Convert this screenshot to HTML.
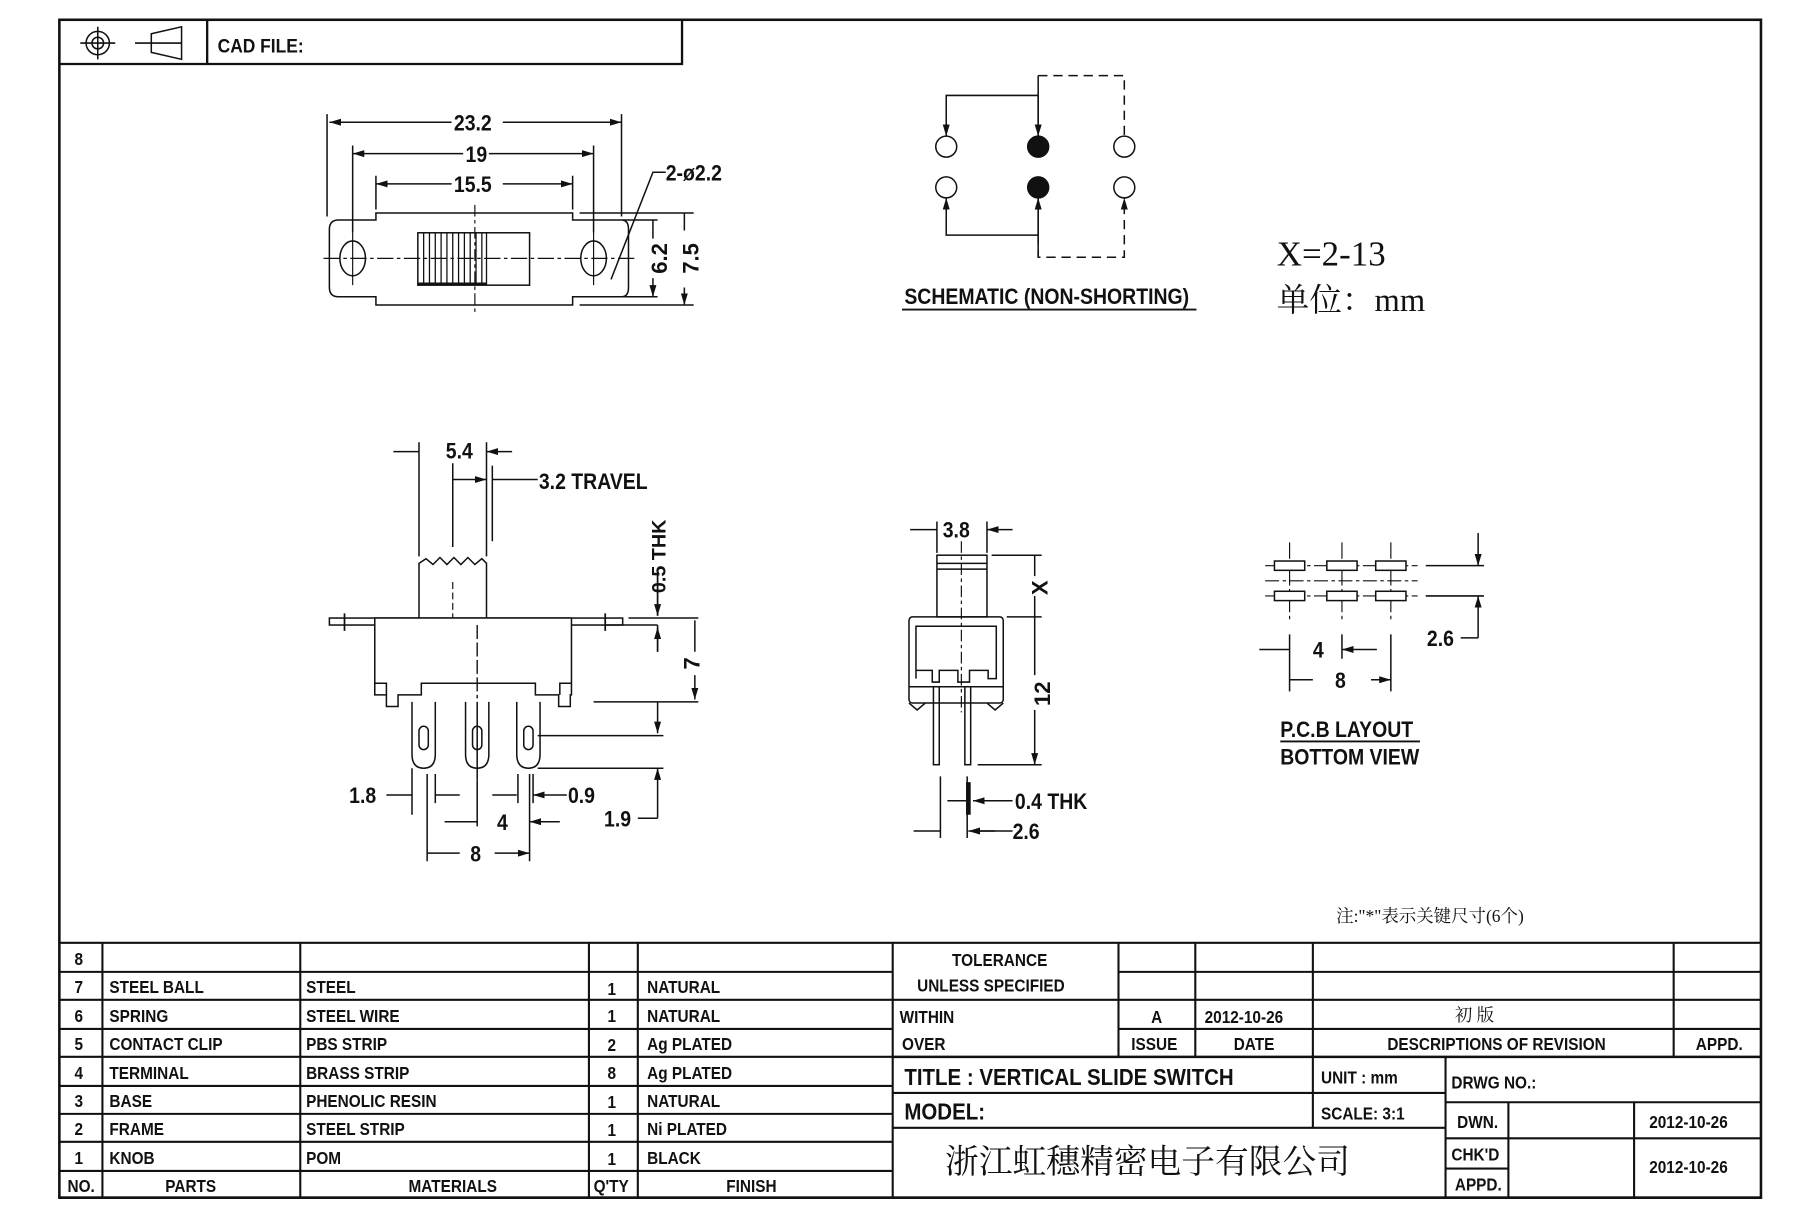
<!DOCTYPE html>
<html><head><meta charset="utf-8"><style>
html,body{margin:0;padding:0;background:#fff;}
svg{display:block;}
text{font-family:"Liberation Sans Narrow","Liberation Sans",sans-serif;font-weight:bold;fill:#111;}
text:not([transform]):not(.s):not(.c){transform-box:fill-box;transform-origin:0 0;transform:scaleX(.88);}
.s{font-family:"Liberation Serif","Noto Serif CJK SC",serif;font-weight:normal;}
.c{font-family:"Liberation Serif","Noto Serif CJK SC",serif;font-weight:normal;}
</style></head><body>
<svg width="1811" height="1207" viewBox="0 0 1556 1037" preserveAspectRatio="none" xmlns="http://www.w3.org/2000/svg">
<defs>
<marker id="a" viewBox="0 0 10 6" refX="10" refY="3" markerWidth="10" markerHeight="6" markerUnits="userSpaceOnUse" orient="auto-start-reverse"><path d="M0,0L10,3L0,6z" fill="#111"/></marker>
</defs>
<g fill="none" stroke="#111" stroke-width="1.3">
<rect x="51" y="17" width="1462" height="1012" stroke-width="2.2"/>
<path d="M51 55H586V17M178 17V55" stroke-width="2"/>
<circle cx="84" cy="37" r="10"/><circle cx="84" cy="37" r="5"/>
<path d="M69 37H99M84 23V51M116 37H156M130 29L156 23V51L130 45Z"/>

<g stroke-width="1.8">
<path d="M51 810H1513"/>
<path d="M51 835H767M51 859H767M51 884H767M51 908H767M51 933H767M51 957H767M51 981H767M51 1006H767"/>
<path d="M88 810V1029M258 810V1029M506 810V1029M548 810V1029M767 810V1029"/>
<path d="M961 810V908M1027 810V908M1128 810V908M1438 810V908"/>
<path d="M961 835H1513M767 859H1513M961 884H1513"/>
<path d="M767 908H1513" stroke-width="2.2"/>
<path d="M1128 908V969M1242 908V1029M767 939H1242M767 969H1242M1242 947H1513M1242 978H1513M1242 1004H1296M1296 947V1029M1404 947V1029"/>
<path d="M51 1029H1513" stroke-width="2.2"/>
</g>

<!-- TOP VIEW -->
<path d="M291 189H323V183H492V189H534Q540 189 540 197V247Q540 255 534 255H492V262H323V255H291Q283 255 283 247V197Q283 189 291 189Z"/>
<ellipse cx="303" cy="222" rx="11" ry="15"/><ellipse cx="510" cy="222" rx="11" ry="15"/>
<path d="M278 222H545" stroke-dasharray="14 3 3 3" stroke-width="1"/>
<path d="M408 176V268" stroke-dasharray="10 3 3 3" stroke-width="1"/>
<path d="M303 200V245M510 200V245" stroke-width="1"/>
<rect x="359" y="200" width="96" height="45"/>
<path d="M364 200V245M369 200V245M374 200V245M379 200V245M384 200V245M389 200V245M394 200V245M399 200V245M404 200V245M409 200V245M414 200V245M418 200V245" stroke-width="1.1"/>
<path d="M359 244H418" stroke-width="2.5"/>
<path d="M281 98V186M534 98V186M303 125V200M510 125V200M323 151V180M492 151V180"/>
<path d="M283 105H388M432 105H534" marker-start="url(#a)" marker-end="url(#a)"/>
<path d="M303 132H398M420 132H510" marker-start="url(#a)" marker-end="url(#a)"/>
<path d="M323 158H388M432 158H492" marker-start="url(#a)" marker-end="url(#a)"/>
<path d="M572 148H561L525 240"/>
<path d="M498 183H596M498 262H596M535 189H565M535 255H565"/>
<path d="M561 205V189M561 239V255" marker-end="url(#a)"/>
<path d="M588 198V183M588 247V262" marker-end="url(#a)"/>

<!-- SCHEMATIC -->
<circle cx="813" cy="126" r="9"/><circle cx="966" cy="126" r="9"/>
<circle cx="813" cy="161" r="9"/><circle cx="966" cy="161" r="9"/>
<circle cx="892" cy="126" r="9" fill="#111"/><circle cx="892" cy="161" r="9" fill="#111"/>
<path d="M892 65V117M892 82H813V117" marker-end="url(#a)"/>
<path d="M892 82V117" marker-end="url(#a)"/>
<path d="M892 221V170M892 202H813V170" marker-end="url(#a)"/>
<path d="M892 202V170" marker-end="url(#a)"/>
<path d="M892 65H966V117M892 202V221H966V170" stroke-dasharray="8 5" marker-end="url(#a)"/>
<path d="M775 266H1028" stroke-width="1.6"/>

<!-- SIDE VIEW -->
<rect x="283" y="531" width="252" height="6"/>
<path d="M296 527V542M520 527V542" stroke-width="1.5"/>
<path d="M322 531V597H332V607H342V597H362V587H460V597H480V607H490V597H491V531Z" fill="#fff"/>
<path d="M322 587H332V597M491 587H481V597"/>
<path d="M360 531V484L366 480L372 485L378 479L384 485L390 479L396 485L402 479L408 485L414 480L418 484V531"/>
<path d="M389 500V531" stroke-dasharray="6 3" stroke-width="1"/>
<path d="M410 537V600" stroke-dasharray="12 3" stroke-width="1.2"/>
<g>
<path d="M354 603V648Q354 660 364 660Q374 660 374 648V603"/><rect x="360" y="624" width="8" height="20" rx="4"/>
<path d="M400 603V648Q400 660 410 660Q420 660 420 648V603"/><rect x="406" y="624" width="8" height="20" rx="4"/>
<path d="M444 603V648Q444 660 454 660Q464 660 464 648V603"/><rect x="450" y="624" width="8" height="20" rx="4"/>
<path d="M410 603V670"/>
</g>
<path d="M360 380V478M418 380V478M389 398V470M423 400V465"/>
<path d="M338 388H360M440 388H418" marker-end="url(#a)"/>
<path d="M404 412H389M404 412H418" marker-end="url(#a)"/>
<path d="M423 412H462"/>
<path d="M540 531H600M520 537H565M510 603H600M565 529V495M565 537V560" />
<path d="M565 490V529" marker-end="url(#a)"/><path d="M565 560V539" marker-end="url(#a)"/>
<path d="M597 560V533M597 580V601" marker-end="url(#a)"/>
<path d="M565 603V630" marker-end="url(#a)"/>
<path d="M462 632H570M462 660H570"/>
<path d="M565 703V660" marker-end="url(#a)"/>
<path d="M548 703H565"/>
<path d="M354 660V700M374 665V690M445 665V690M458 665V690M410 670V710M367 665V740M455 665V740"/>
<path d="M332 683H354M395 683H374M423 683H444M487 683H458" marker-end="url(#a)"/>
<path d="M382 706H410M481 706H455" marker-end="url(#a)"/>
<path d="M395 733H367M425 733H455" marker-end="url(#a)"/>

<!-- FRONT VIEW -->
<rect x="805" y="477" width="43" height="53"/>
<path d="M805 484H848M805 489H848"/>
<rect x="781" y="530" width="81" height="74" rx="3"/>
<path d="M787 583V538H856V583H849V576H833V586H823V576H807V586H801V576H787Z"/>
<path d="M781 590H862M781 604L788 610L795 604M862 604L855 610L848 604"/>
<path d="M826 465V612" stroke-dasharray="10 3 3 3" stroke-width="1"/>
<rect x="802" y="590" width="5" height="67"/><rect x="829" y="590" width="5" height="67"/>
<path d="M805 448V475M848 448V475"/>
<path d="M782 455H805M870 455H848" marker-end="url(#a)"/>
<path d="M852 477H895M865 530H895M840 657H895"/>
<path d="M889 495V477M889 512V530M889 580V530M889 610V657" marker-end="url(#a)"/>
<path d="M808 667V720M831 667V720"/>
<path d="M832 672V700" stroke-width="4"/>
<path d="M814 688H831M852 688H836" marker-end="url(#a)"/>
<path d="M840 688H870M840 714H870"/>
<path d="M785 714H808M855 714H832" marker-end="url(#a)"/>

<!-- PCB LAYOUT -->
<path d="M1087 486H1218M1087 512H1218M1087 499H1218" stroke-dasharray="12 3 3 3" stroke-width="1"/>
<path d="M1108 466V533M1153 466V533M1195 466V533" stroke-dasharray="14 3 3 3" stroke-width="1"/>
<g fill="#fff">
<rect x="1095" y="482" width="26" height="8"/><rect x="1140" y="482" width="26" height="8"/><rect x="1182" y="482" width="26" height="8"/>
<rect x="1095" y="508" width="26" height="8"/><rect x="1140" y="508" width="26" height="8"/><rect x="1182" y="508" width="26" height="8"/>
</g>
<path d="M1225 486H1275M1225 512H1275"/>
<path d="M1270 458V486" marker-end="url(#a)"/>
<path d="M1270 548V512" marker-end="url(#a)"/>
<path d="M1255 548H1270"/>
<path d="M1108 545V594M1153 545V566M1195 545V594"/>
<path d="M1082 558H1108M1183 558H1153" marker-end="url(#a)"/>
<path d="M1128 584H1108M1178 584H1195" marker-end="url(#a)"/>
<path d="M1100 637H1220" stroke-width="1.6"/>
</g>

<!-- TEXT -->
<text x="187" y="45" font-size="17">CAD FILE:</text>
<g font-size="19">
<text x="390" y="112">23.2</text>
<text x="400" y="139">19</text>
<text x="390" y="165">15.5</text>
<text x="572" y="155">2-ø2.2</text>
<text transform="translate(573 222) rotate(-90)" text-anchor="middle">6.2</text>
<text transform="translate(600 222) rotate(-90)" text-anchor="middle">7.5</text>
<text x="383" y="394">5.4</text>
<text x="463" y="420">3.2 TRAVEL</text>
<text transform="translate(572 478) rotate(-90)" text-anchor="middle" font-size="17">0.5 THK</text>
<text transform="translate(601 570) rotate(-90)" text-anchor="middle">7</text>
<text x="300" y="690">1.8</text>
<text x="488" y="690">0.9</text>
<text x="427" y="713">4</text>
<text x="404" y="740">8</text>
<text x="519" y="710">1.9</text>
<text x="810" y="462">3.8</text>
<text transform="translate(900 505) rotate(-90)" text-anchor="middle">X</text>
<text transform="translate(902 596) rotate(-90)" text-anchor="middle">12</text>
<text x="872" y="695">0.4 THK</text>
<text x="870" y="721">2.6</text>
<text x="1128" y="565">4</text>
<text x="1147" y="591">8</text>
<text x="1226" y="555">2.6</text>
</g>
<text x="777" y="261" font-size="19">SCHEMATIC (NON-SHORTING)</text>
<text x="1100" y="633" font-size="19">P.C.B LAYOUT</text>
<text x="1100" y="657" font-size="19">BOTTOM VIEW</text>
<text x="1097" y="228" font-size="30" class="s">X=2-13</text>
<text x="1097" y="267" font-size="28" class="s">单位：mm</text>
<text x="1148" y="792" font-size="15" class="s">注:"*"表示关键尺寸(6个)</text>

<g font-size="15">
<text x="64" y="829">8</text>
<text x="64" y="853">7</text><text x="94" y="853">STEEL BALL</text><text x="263" y="853">STEEL</text><text x="522" y="855">1</text><text x="556" y="853">NATURAL</text>
<text x="64" y="878">6</text><text x="94" y="878">SPRING</text><text x="263" y="878">STEEL WIRE</text><text x="522" y="878">1</text><text x="556" y="878">NATURAL</text>
<text x="64" y="902">5</text><text x="94" y="902">CONTACT CLIP</text><text x="263" y="902">PBS STRIP</text><text x="522" y="903">2</text><text x="556" y="902">Ag PLATED</text>
<text x="64" y="927">4</text><text x="94" y="927">TERMINAL</text><text x="263" y="927">BRASS STRIP</text><text x="522" y="927">8</text><text x="556" y="927">Ag PLATED</text>
<text x="64" y="951">3</text><text x="94" y="951">BASE</text><text x="263" y="951">PHENOLIC RESIN</text><text x="522" y="952">1</text><text x="556" y="951">NATURAL</text>
<text x="64" y="975">2</text><text x="94" y="975">FRAME</text><text x="263" y="975">STEEL STRIP</text><text x="522" y="976">1</text><text x="556" y="975">Ni PLATED</text>
<text x="64" y="1000">1</text><text x="94" y="1000">KNOB</text><text x="263" y="1000">POM</text><text x="522" y="1001">1</text><text x="556" y="1000">BLACK</text>
<text x="58" y="1024">NO.</text><text x="142" y="1024">PARTS</text><text x="351" y="1024">MATERIALS</text><text x="510" y="1024">Q'TY</text><text x="624" y="1024">FINISH</text>
<text x="818" y="830">TOLERANCE</text>
<text x="788" y="852">UNLESS  SPECIFIED</text>
<text x="773" y="879">WITHIN</text>
<text x="775" y="902">OVER</text>
<text x="989" y="879">A</text>
<text x="1035" y="879">2012-10-26</text>
<text x="1250" y="877" class="c">初 版</text>
<text x="972" y="902">ISSUE</text>
<text x="1060" y="902">DATE</text>
<text x="1192" y="902">DESCRIPTIONS OF REVISION</text>
<text x="1457" y="902">APPD.</text>
<text x="1135" y="931">UNIT : mm</text>
<text x="1135" y="962">SCALE: 3:1</text>
<text x="1247" y="935">DRWG NO.:</text>
<text x="1252" y="969">DWN.</text>
<text x="1247" y="997">CHK'D</text>
<text x="1250" y="1023">APPD.</text>
<text x="1417" y="969">2012-10-26</text>
<text x="1417" y="1008">2012-10-26</text>
</g>
<text x="777" y="932" font-size="20">TITLE :  VERTICAL SLIDE SWITCH</text>
<text x="777" y="962" font-size="20">MODEL:</text>
<text x="812" y="1008" font-size="29" class="c">浙江虹穗精密电子有限公司</text>
</svg>
</body></html>
